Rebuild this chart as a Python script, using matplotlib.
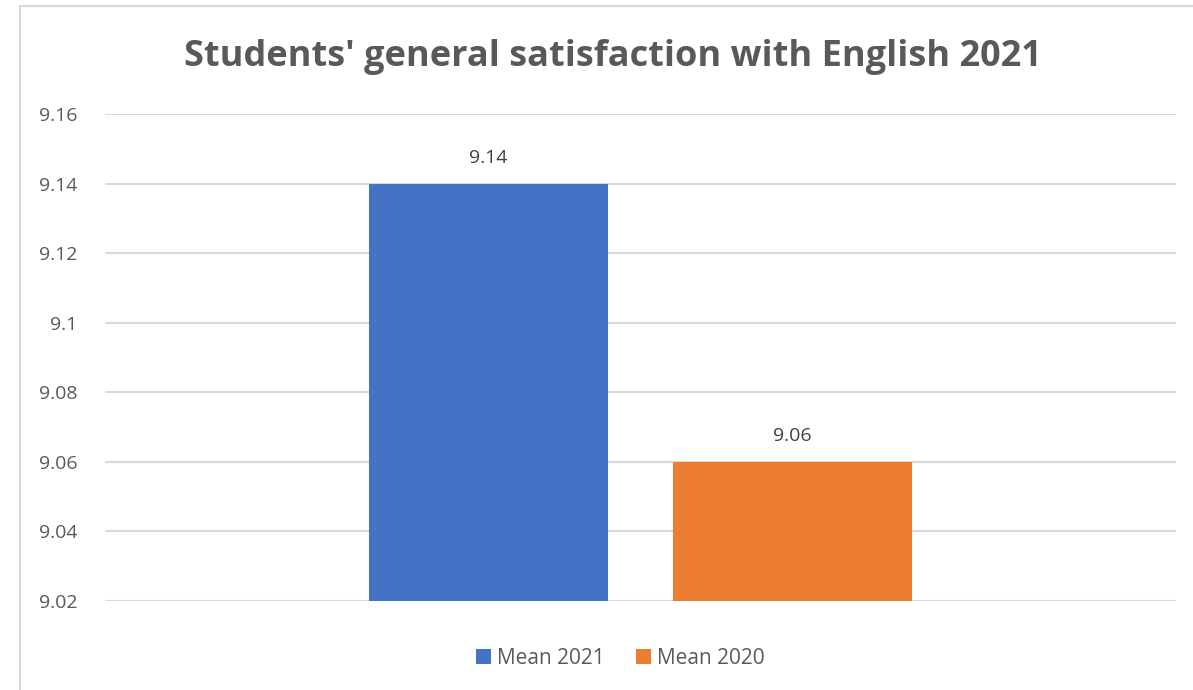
import matplotlib.pyplot as plt
from matplotlib.patches import Rectangle

# Datos del grafico
series = ['Mean 2021', 'Mean 2020']
valores = [9.14, 9.06]
colores = ['#4472C4', '#ED7D31']
yticks = [9.02, 9.04, 9.06, 9.08, 9.1, 9.12, 9.14, 9.16]
ytick_labels = ['9.02', '9.04', '9.06', '9.08', '9.1', '9.12', '9.14', '9.16']

plt.rcParams['font.family'] = ['Open Sans', 'DejaVu Sans']

fig = plt.figure(figsize=(11.93, 6.9), dpi=100)
ax = fig.add_axes([0.088, 0.129, 0.8977, 0.7058])

# borde del area del grafico
fig.patches.append(Rectangle((0.0168, -0.02), 1.2, 1.0113, transform=fig.transFigure,
                             fill=False, edgecolor='#D9D9D9', linewidth=1.5))

ancho = 0.2232
offsets = [-0.1419, 0.1419]
base = yticks[0]
for nombre, v, c, off in zip(series, valores, colores, offsets):
    ax.bar(off, v - base, bottom=base, width=ancho, color=c, label=nombre, zorder=3)
    ax.text(off, v + 0.0048, f'{v:.2f}', ha='center', va='bottom',
            fontsize=14, color='#404040')

ax.set_xlim(-0.5, 0.5)
ax.set_ylim(yticks[0], yticks[-1])
ax.set_yticks(yticks)
ax.set_yticklabels(ytick_labels, fontsize=14, color='#595959')
ax.tick_params(axis='y', length=0, pad=20)
ax.set_xticks([])
ax.grid(axis='y', color='#D9D9D9', linewidth=1.5, zorder=0)
for s in ax.spines.values():
    s.set_visible(False)

fig.text(0.514, 0.918, "Students' general satisfaction with English 2021",
         ha='center', va='center', fontsize=26, fontweight='bold', color='#595959')

fig.legend(loc='center', bbox_to_anchor=(0.52, 0.046), ncol=2, frameon=False,
           fontsize=15, handlelength=0.7, handleheight=0.7, handletextpad=0.3,
           columnspacing=1.5, labelcolor='#595959')

fig.savefig('out.png', dpi=100)
